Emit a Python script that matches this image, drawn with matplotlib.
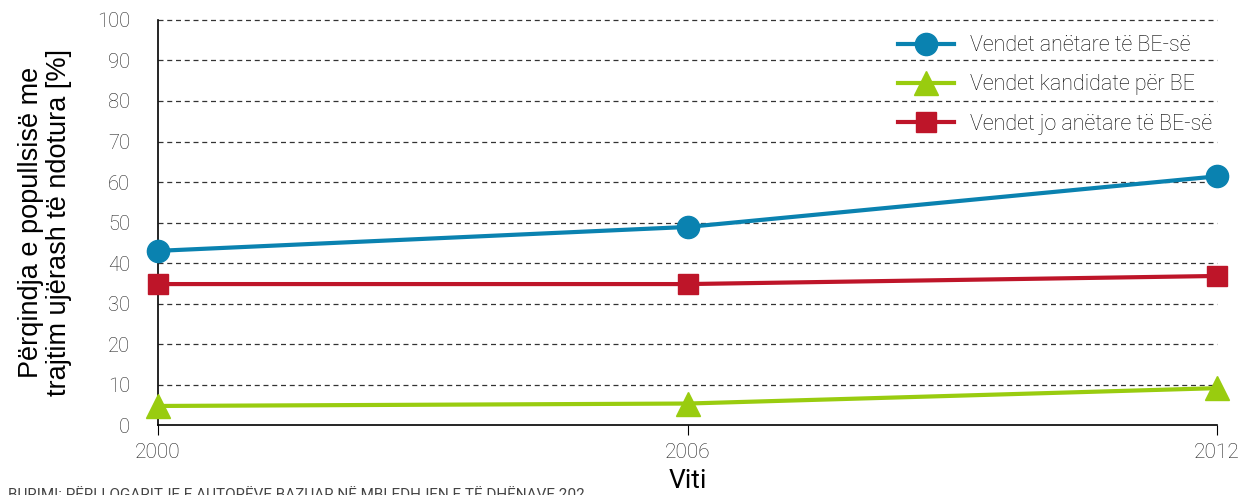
import matplotlib
matplotlib.use("Agg")
import matplotlib.pyplot as plt

years = [2000, 2006, 2012]
eu_members = [43.0, 48.9, 61.4]
candidates = [4.7, 5.3, 9.1]
non_members = [34.8, 34.8, 36.8]
series_labels = ["Vendet anëtare të BE-së", "Vendet kandidate për BE", "Vendet jo anëtare të BE-së"]
y_ticks = list(range(0, 101, 10))

plt.rcParams['font.family'] = ['Roboto', 'DejaVu Sans']

fig = plt.figure(figsize=(12.5, 4.95), dpi=100)
ax = fig.add_axes([0.1264, 0.1414, 0.8472, 0.8182])

ax.plot(years, eu_members, color='#0A82B0', lw=3.0, marker='o', ms=16, label=series_labels[0], zorder=3)
ax.plot(years, candidates, color='#99CC0F', lw=3.0, marker='^', ms=17, label=series_labels[1], zorder=3)
ax.plot(years, non_members, color='#BE1529', lw=3.0, marker='s', ms=15, label=series_labels[2], zorder=3)

ax.set_xlim(2000, 2012)
ax.set_ylim(0, 100)
ax.set_xticks(years)
ax.set_xticklabels([str(y) for y in years], fontweight='light', fontsize=15, color='#222222')
ax.set_yticks(y_ticks)
ax.set_yticklabels([str(v) for v in y_ticks], fontweight='light', fontsize=14.5, color='#222222')
ax.tick_params(axis='y', length=0, pad=20)
ax.tick_params(axis='x', length=7, direction='out', pad=6, color='black')

for v in y_ticks[1:]:
    ax.axhline(v, color='#333333', lw=0.9, ls=(0, (4, 3)), zorder=1)

for s in ['top', 'right']:
    ax.spines[s].set_visible(False)
ax.spines['left'].set_linewidth(1.2)
ax.spines['bottom'].set_linewidth(1.2)
for line in ax.lines:
    line.set_clip_on(False)

ax.set_xlabel("Viti", fontsize=19, fontweight='normal', labelpad=5, color='#000000')
ax.set_ylabel("Përqindja e popullsisë me\ntrajtim ujërash të ndotura [%]",
              fontsize=19.5, family=['Liberation Sans', 'DejaVu Sans'], labelpad=18, linespacing=1.12)

leg = ax.legend(loc='upper right', bbox_to_anchor=(1.01, 1.0), frameon=False,
                prop={'family': ['Roboto', 'DejaVu Sans'], 'weight': 'light', 'size': 15.5},
                handlelength=2.6, labelspacing=0.85, handletextpad=0.75, borderaxespad=0.3)
for t in leg.get_texts():
    t.set_color('#000000')

fig.text(0.006, 0.0141, "BURIMI: PËRLLOGARITJE E AUTORËVE BAZUAR NË MBLEDHJEN E TË DHËNAVE 202",
         fontsize=11, color='#444444', va='top')

fig.savefig("out.png", dpi=100)
